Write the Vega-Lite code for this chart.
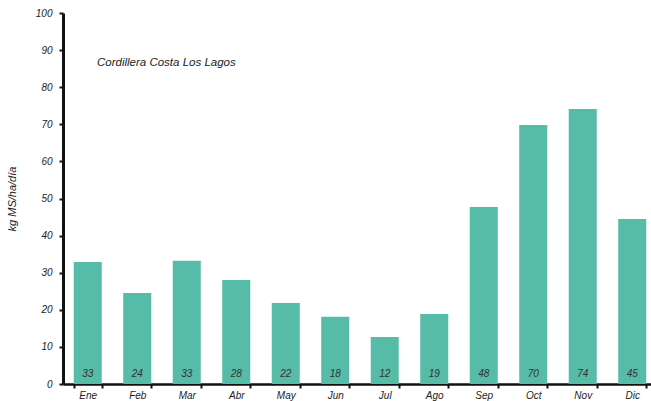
{
  "$schema": "https://vega.github.io/schema/vega-lite/v6.json",
  "width": 594,
  "height": 371,
  "autosize": "none",
  "padding": {"left": 63, "top": 13, "right": 0, "bottom": 17},
  "background": "white",
  "config": {
    "view": {"stroke": null},
    "font": "Liberation Sans",
    "axisY": {
      "values": [0, 10, 20, 30, 40, 50, 60, 70, 80, 90, 100],
      "labelOverlap": false,
      "labelFlush": false,
      "grid": false,
      "labelFont": "Liberation Sans",
      "labelFontStyle": "italic",
      "labelFontSize": 10,
      "labelColor": "#222222",
      "labelPadding": 7,
      "tickSize": 4,
      "tickWidth": 2,
      "tickColor": "#111111",
      "domainColor": "#111111",
      "domainWidth": 3,
      "titleFont": "Liberation Sans",
      "titleFontStyle": "italic",
      "titleFontWeight": "normal",
      "titleFontSize": 11,
      "titleColor": "#222222",
      "titlePadding": 18
    }
  },
  "title": {
    "text": "Cordillera Costa Los Lagos",
    "anchor": "start",
    "frame": "group",
    "orient": "top",
    "offset": -60,
    "dx": 34,
    "fontSize": 11.5,
    "fontStyle": "italic",
    "fontWeight": "normal",
    "color": "#222222",
    "font": "Liberation Sans"
  },
  "data": {
    "values": [
      {"mes": "Ene", "valor": 32.9, "etiqueta": "33"},
      {"mes": "Feb", "valor": 24.5, "etiqueta": "24"},
      {"mes": "Mar", "valor": 33.2, "etiqueta": "33"},
      {"mes": "Abr", "valor": 28.0, "etiqueta": "28"},
      {"mes": "May", "valor": 21.8, "etiqueta": "22"},
      {"mes": "Jun", "valor": 18.1, "etiqueta": "18"},
      {"mes": "Jul", "valor": 12.7, "etiqueta": "12"},
      {"mes": "Ago", "valor": 18.9, "etiqueta": "19"},
      {"mes": "Sep", "valor": 47.7, "etiqueta": "48"},
      {"mes": "Oct", "valor": 69.8, "etiqueta": "70"},
      {"mes": "Nov", "valor": 74.1, "etiqueta": "74"},
      {"mes": "Dic", "valor": 44.5, "etiqueta": "45"}
    ]
  },
  "encoding": {
    "x": {
      "field": "mes",
      "type": "ordinal",
      "sort": null,
      "scale": {"paddingInner": 0.434, "paddingOuter": 0.217},
      "axis": {
        "title": null,
        "labelAngle": 0,
        "labelFont": "Liberation Sans",
        "labelFontStyle": "italic",
        "labelFontSize": 10,
        "labelColor": "#222222",
        "labelPadding": 2,
        "labelOverlap": false,
        "tickBand": "extent",
        "tickSize": 4,
        "tickWidth": 2,
        "tickColor": "#111111",
        "domainColor": "#111111",
        "domainWidth": 2.5
      }
    }
  },
  "layer": [
    {
      "mark": {"type": "bar", "color": "#56BBA7"},
      "encoding": {
        "y": {
          "field": "valor",
          "type": "quantitative",
          "scale": {"domain": [0, 100], "nice": false},
          "axis": {"title": "kg MS/ha/día"}
        }
      }
    },
    {
      "mark": {
        "type": "text",
        "font": "Liberation Sans",
        "fontStyle": "italic",
        "fontSize": 10,
        "color": "#333333",
        "baseline": "alphabetic",
        "dy": -7
      },
      "encoding": {
        "y": {"datum": 0, "type": "quantitative", "axis": {"title": "kg MS/ha/día"}},
        "text": {"field": "etiqueta"}
      }
    }
  ]
}
